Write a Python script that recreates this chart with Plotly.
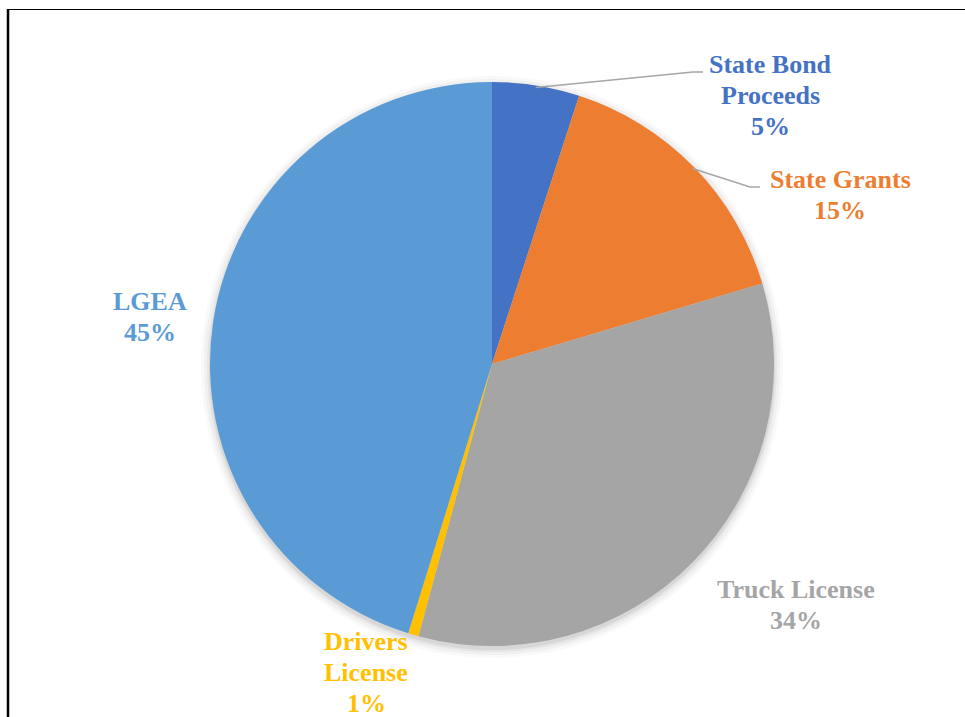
import math
import plotly.graph_objects as go

# Revenue sources (share of total, %)
categories = ["State Bond Proceeds", "State Grants", "Truck License", "Drivers License", "LGEA"]
values = [5.0, 15.4, 33.8, 0.6, 45.2]
label_lines = [["State Bond", "Proceeds"], ["State Grants"], ["Truck License"], ["Drivers", "License"], ["LGEA"]]
colors = ["#4472C4", "#ED7D31", "#A5A5A5", "#FFC000", "#5B9BD5"]

W, H = 965, 717
CX, CY, R = 492, 364, 282  # pie centre and radius in pixels
LINE_GAP = 31.3            # label line spacing in pixels


def fx(x):
    return x / W


def fy(y):
    return 1 - y / H


fig = go.Figure()

# soft drop shadow beneath the pie
for grow, alpha in [(9, 0.025), (6, 0.035), (3, 0.045), (1, 0.06)]:
    rr = R + grow
    fig.add_trace(go.Pie(
        values=[1], marker=dict(colors=[f"rgba(0,0,0,{alpha})"], line=dict(width=0)),
        textinfo="none", hoverinfo="skip", showlegend=False, sort=False,
        domain=dict(x=[fx(CX - rr), fx(CX + rr)], y=[fy(CY + 3 + rr), fy(CY + 3 - rr)]),
    ))

fig.add_trace(go.Pie(
    labels=categories, values=values, sort=False, direction="clockwise", rotation=0,
    marker=dict(colors=colors, line=dict(width=0)),
    textinfo="none", showlegend=False,
    domain=dict(x=[fx(CX - R), fx(CX + R)], y=[fy(CY + R), fy(CY - R)]),
))

total = sum(values)

# centre x and first-line centre y of each label (pixels)
label_pos = [(770, 64), (840, 179), (796, 589), (366, 641), (150, 301)]
annotations = []
for lines, v, c, (lx, ly) in zip(label_lines, values, colors, label_pos):
    rows = lines + [f"{v / total * 100:.0f}%"]
    for k, row in enumerate(rows):
        annotations.append(dict(
            x=fx(lx), y=fy(ly + k * LINE_GAP), xref="paper", yref="paper", text=row,
            showarrow=False, xanchor="center", yanchor="middle",
            font=dict(family="Liberation Serif", size=26, color=c, weight="bold"),
        ))

# leader lines from slice mid-angles to the two upper labels
elbows = {0: [(693, 72), (703, 72)], 1: [(750, 187), (760, 187)]}
shapes = []
cum = 0.0
for i, v in enumerate(values):
    mid = (cum + v / 2) / total
    cum += v
    if i in elbows:
        ang = 2 * math.pi * mid
        sx = CX + (R - 2) * math.sin(ang)
        sy = CY - (R - 2) * math.cos(ang)
        pts = [(sx, sy)] + elbows[i]
        path = "M " + " L ".join(f"{fx(x)},{fy(y)}" for x, y in pts)
        shapes.append(dict(type="path", path=path, xref="paper", yref="paper",
                           line=dict(color="#A6A6A6", width=1.5)))

# frame lines along the left and top
shapes.append(dict(type="line", xref="paper", yref="paper", x0=fx(8), x1=fx(8), y0=fy(9), y1=0,
                   line=dict(color="black", width=2.5)))
shapes.append(dict(type="line", xref="paper", yref="paper", x0=fx(7), x1=1, y0=fy(9.5), y1=fy(9.5),
                   line=dict(color="black", width=1.2)))

fig.update_layout(
    width=W, height=H, margin=dict(l=0, r=0, t=0, b=0),
    paper_bgcolor="white", plot_bgcolor="white",
    annotations=annotations, shapes=shapes, showlegend=False,
)

fig.write_html("out.html")
